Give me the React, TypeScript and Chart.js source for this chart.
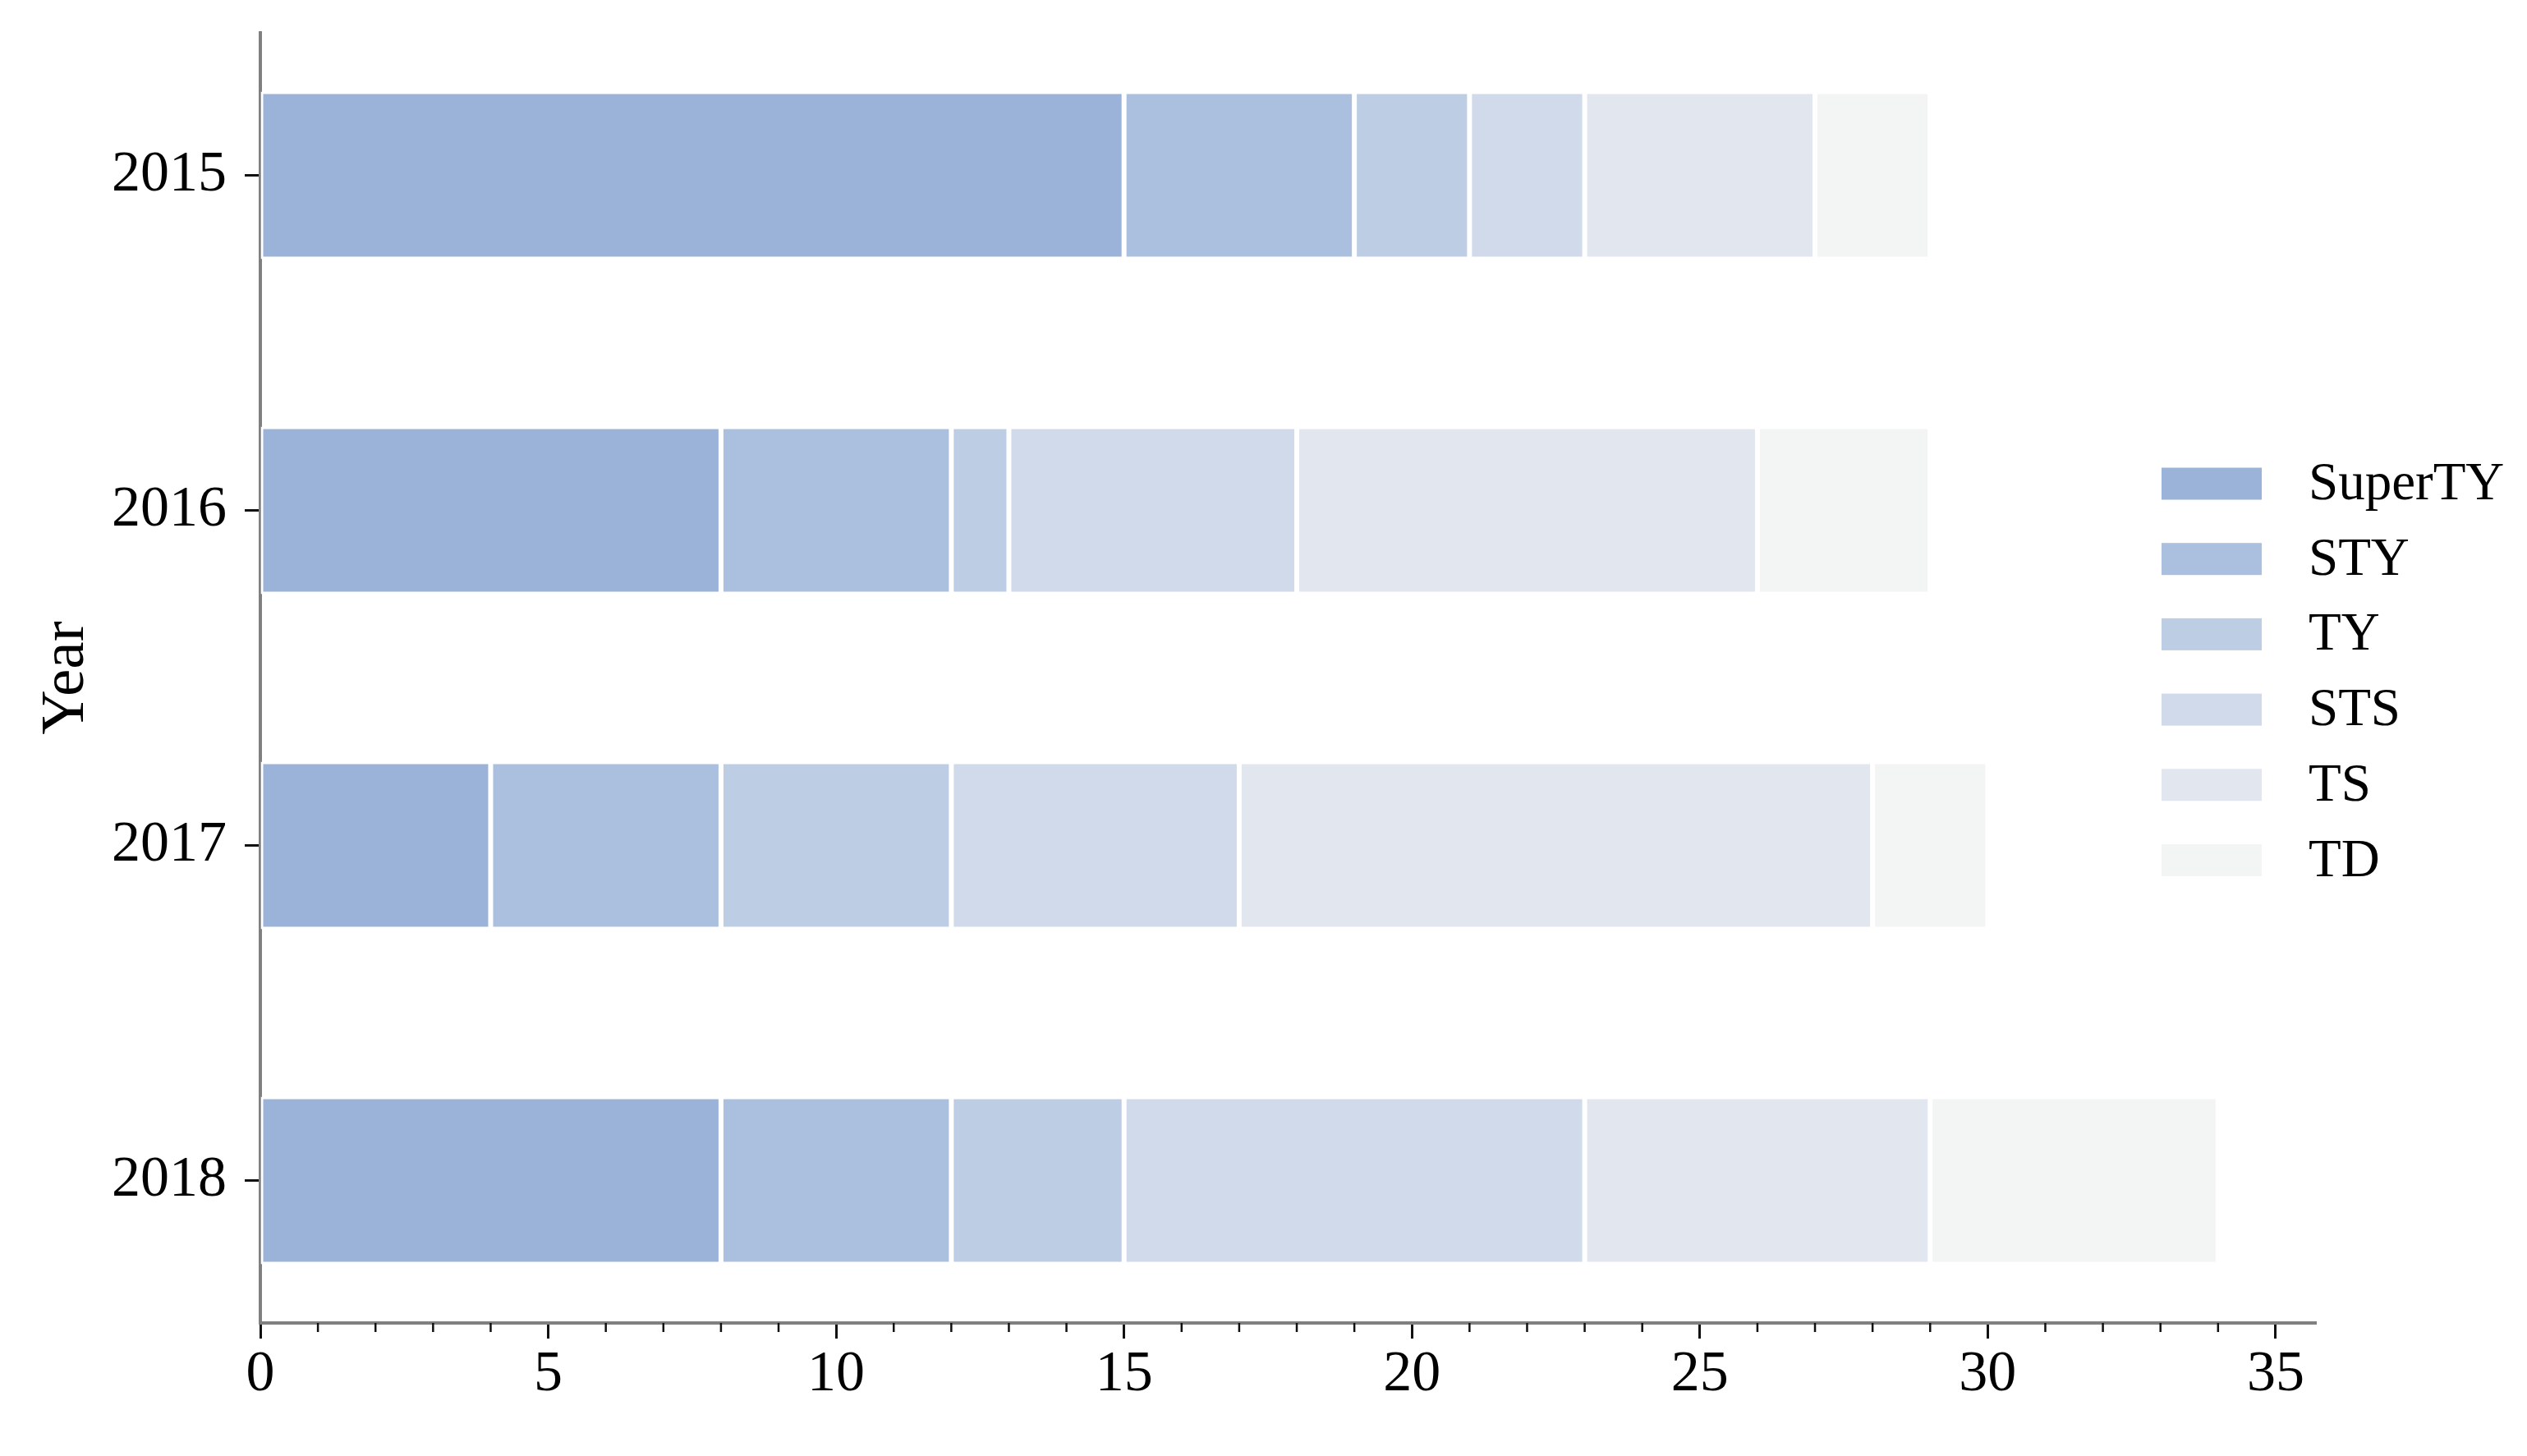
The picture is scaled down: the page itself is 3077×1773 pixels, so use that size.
import React, { useEffect, useRef } from 'react';
import { Chart, registerables } from 'chart.js';

Chart.register(...registerables);

const years = ['2015', '2016', '2017', '2018'];
const categories = ['SuperTY', 'STY', 'TY', 'STS', 'TS', 'TD'];
const superTY = [15, 8, 4, 8];
const sty = [4, 4, 4, 4];
const ty = [2, 1, 4, 3];
const sts = [2, 5, 5, 8];
const ts = [4, 8, 11, 6];
const td = [2, 3, 2, 5];
const seriesValues = [superTY, sty, ty, sts, ts, td];
const colors = ['#9bb3d8', '#abc0df', '#bdcde4', '#d0daea', '#e1e6ef', '#f3f4f4'];

const FONT = "'Liberation Serif', 'Times New Roman', serif";

const totals = years.map((_, j) => seriesValues.reduce((s, arr) => s + arr[j], 0));
const xMax = Math.max(...totals) * 1.05;

const minorTicksPlugin = {
  id: 'minorTicks',
  afterDraw(chart: any) {
    const ctx = chart.ctx;
    const xs = chart.scales.x;
    ctx.save();
    ctx.strokeStyle = '#111';
    ctx.lineWidth = 2.5;
    for (let v = 0; v <= Math.floor(xs.max); v++) {
      if (v % 5 === 0) continue;
      const px = xs.getPixelForValue(v);
      ctx.beginPath();
      ctx.moveTo(px, xs.top);
      ctx.lineTo(px, xs.top + 11);
      ctx.stroke();
    }
    ctx.restore();
  },
};

const legendPlugin = {
  id: 'customLegend',
  afterDraw(chart: any) {
    const ctx = chart.ctx;
    ctx.save();
    const boxX = 2632;
    const boxW = 122;
    const boxH = 39;
    const startY = 589;
    const step = 91.7;
    chart.data.datasets.forEach((ds: any, i: number) => {
      const cy = startY + i * step;
      ctx.fillStyle = ds.backgroundColor;
      ctx.fillRect(boxX, cy - boxH / 2, boxW, boxH);
      ctx.fillStyle = '#000';
      ctx.font = `65px ${FONT}`;
      ctx.textAlign = 'left';
      ctx.textBaseline = 'middle';
      ctx.fillText(ds.label, 2811, cy + 2);
    });
    ctx.restore();
  },
};

export default function App() {
  const ref = useRef<HTMLCanvasElement | null>(null);
  useEffect(() => {
    document.body.style.margin = '0';
    if (!ref.current) return;
    const chart = new Chart(ref.current, {
      type: 'bar',
      data: {
        datasets: categories.map((c, i) => ({
          label: c,
          data: seriesValues[i].map((v, j) => ({ x: v, y: j })),
          backgroundColor: colors[i],
          borderColor: '#ffffff',
          borderWidth: 3,
          borderSkipped: false,
          barPercentage: 0.5,
          categoryPercentage: 1,
        })),
      },
      options: {
        indexAxis: 'y',
        responsive: false,
        animation: false,
        layout: { padding: { left: 0, top: 40, right: 257, bottom: 0 } },
        plugins: { legend: { display: false }, tooltip: { enabled: false } },
        scales: {
          x: {
            type: 'linear',
            stacked: true,
            min: 0,
            max: xMax,
            offset: false,
            afterFit: (s: any) => { s.height = 162; s.paddingLeft = 0; s.paddingRight = 0; },
            ticks: {
              stepSize: 5,
              includeBounds: false,
              padding: 3,
              color: '#000',
              maxRotation: 0,
              font: { family: FONT, size: 70 },
            },
            grid: { offset: false, drawOnChartArea: false, drawTicks: true, tickLength: 19, tickWidth: 3, tickColor: '#111' },
            border: { display: true, color: '#808080', width: 4 },
          },
          y: {
            type: 'linear',
            stacked: true,
            reverse: true,
            offset: false,
            min: -0.425,
            max: 3.425,
            afterFit: (s: any) => { s.width = 317; s.paddingTop = 0; s.paddingBottom = 0; },
            ticks: {
              stepSize: 1,
              includeBounds: false,
              padding: 22,
              color: '#000',
              font: { family: FONT, size: 70 },
              callback: (v: any) => (years[v] !== undefined ? years[v] : ''),
            },
            grid: { offset: false, drawOnChartArea: false, drawTicks: true, tickLength: 19, tickWidth: 3, tickColor: '#111' },
            border: { display: true, color: '#808080', width: 4 },
            title: {
              display: true,
              text: 'Year',
              color: '#000',
              font: { family: FONT, size: 75 },
              padding: { top: 36, bottom: 0 },
            },
          },
        },
      } as any,
      plugins: [minorTicksPlugin, legendPlugin],
    });
    return () => chart.destroy();
  }, []);
  return (
    <div style={{ position: 'fixed', left: 0, top: 0, width: 3077, height: 1773, background: '#fff' }}>
      <canvas ref={ref} width={3077} height={1773} style={{ width: 3077, height: 1773, display: 'block' }} />
    </div>
  );
}
